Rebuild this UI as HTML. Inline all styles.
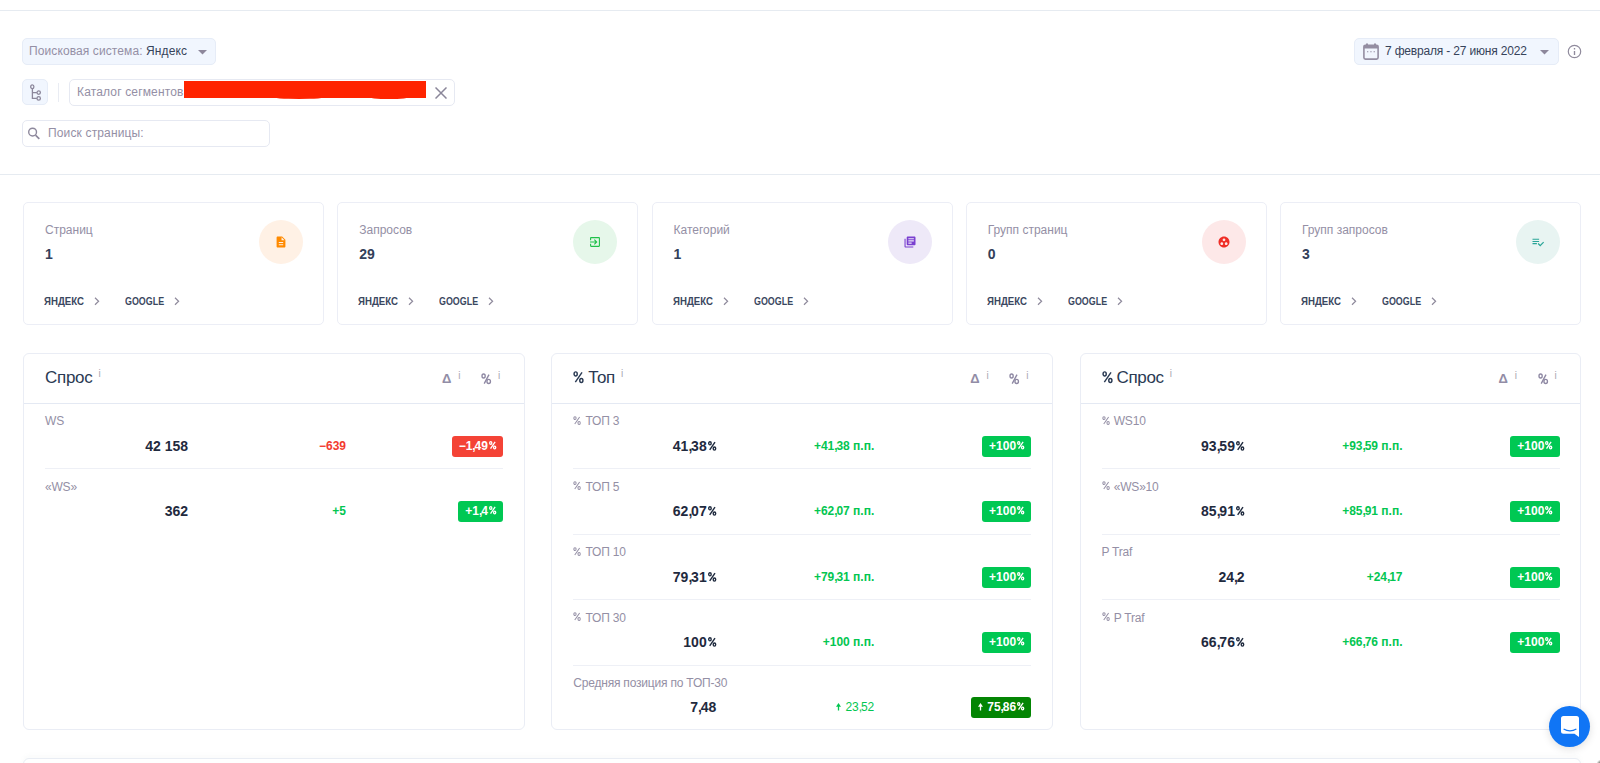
<!DOCTYPE html>
<html><head><meta charset="utf-8">
<style>
*{box-sizing:border-box;margin:0;padding:0}
html,body{width:1600px;height:763px;overflow:hidden;background:#fff;font-family:"Liberation Sans",sans-serif;}
.abs{position:absolute}
.hl{position:absolute;left:0;width:1600px;height:1px;background:#e6ebf1}
.lower{position:absolute;left:0;top:175px;width:1600px;height:588px;background:#fff}
.t{position:absolute;white-space:nowrap;line-height:1}
.box{position:absolute;border:1px solid #e4e9f3;border-radius:5px}
.card{position:absolute;top:202px;width:301px;height:123px;background:#fff;border:1px solid #eceef6;border-radius:5px}
.card .lbl{position:absolute;left:21px;top:20.5px;font-size:12px;color:#948fa5;line-height:1}
.card .val{position:absolute;left:21px;top:44px;font-size:14px;font-weight:bold;color:#33405a;line-height:1}
.card .circ{position:absolute;left:235px;top:17px;width:44px;height:44px;border-radius:50%}
.card .circ svg{position:absolute;left:10px;top:10px}
.card .lk{position:absolute;top:94px;font-size:10px;font-weight:bold;color:#3a4760;line-height:1;letter-spacing:0;transform-origin:0 0}
.card .chev{position:absolute;top:93px}
.panel{position:absolute;top:353px;width:501.5px;height:377px;background:#fff;border:1px solid #eaedf5;border-radius:6px}
.panel .hd{position:absolute;left:0;top:0;width:100%;height:50px;border-bottom:1px solid #e4e9f3}
.panel .ttl{position:absolute;left:21px;top:15px;font-size:17px;color:#2a3a53;line-height:1;letter-spacing:-0.3px}
.ttl .sup{margin-left:6px}
.sup{font-size:10px;font-weight:normal;color:#a9a7b3;vertical-align:top;position:relative;top:0px;margin-left:5px;letter-spacing:0}
.pc2{display:inline-block;transform:scaleX(.75);transform-origin:0 0;margin-right:-3px}
.panel .dh{position:absolute;top:18px;font-size:13px;color:#928da6;line-height:1;font-weight:bold}
.row{position:absolute;left:21px;width:458px;height:65.5px}
.row .rl{position:absolute;left:0;top:11.5px;font-size:12px;color:#948fa5;line-height:1;letter-spacing:-0.2px}
.pg{display:inline-block;vertical-align:baseline;overflow:visible}
.pg g{fill:none;stroke:currentColor;stroke-width:1.4px}
.rv .pg{width:8.4px;height:9.9px;margin-left:1.2px}
.bd .pg{width:7.4px;height:8.6px;margin-left:0.8px}
.bd .pg g{stroke-width:1.5px}
.rl .pg{width:8.1px;height:9.1px;margin:0 1px 0 0}
.rl .pg g{stroke-width:1.1px}
.ttl .pg{width:11px;height:12.5px;margin:0 -0.5px 0 0}
.ttl .pg g{stroke-width:1.15px}
.cm{letter-spacing:-1.2px}
.row .rv{position:absolute;right:315px;top:35px;font-size:14px;font-weight:bold;color:#1f2a3e;line-height:1}
.row .rd{position:absolute;right:157px;top:36px;font-size:12px;font-weight:bold;color:#03c651;line-height:1}
.row .rd.neg{color:#f33b2f}
.row .bd{position:absolute;right:0;top:32px;height:21px;padding:0 7px;border-radius:3px;background:#00c853;color:#fff;font-size:12px;font-weight:bold;line-height:21px}
.row .bd.neg{background:#f44336}
.row .bd.dk{background:#038503}
.ar{display:inline-block;vertical-align:baseline;margin-right:4.3px;position:relative;top:0px}
.row .dv{position:absolute;left:0;bottom:0;width:458px;height:1px;background:#eef0f6}
</style></head>
<body>
<div class="hl" style="top:10px"></div>
<div class="lower"></div>
<div class="hl" style="top:174px"></div>

<!-- search system dropdown -->
<div class="box" style="left:22px;top:38px;width:194px;height:27px;background:#f1f6fe;border-color:#e6ecf7;border-radius:5px"></div>
<div class="t" style="left:29px;top:45px;font-size:12px;color:#948fa5;letter-spacing:0.1px">Поисковая система: <span style="color:#36435a">Яндекс</span></div>
<svg class="abs" style="left:198px;top:50px" width="9" height="5"><path d="M0 0H9L4.5 4.5Z" fill="#8d879b"/></svg>

<!-- tree button -->
<div class="box" style="left:22px;top:79px;width:26px;height:26px;background:#f1f6fe;border-color:#e6ecf7"></div>
<svg class="abs" style="left:28px;top:84px" width="16" height="17" viewBox="0 0 16 17">
 <g fill="none" stroke="#8c879b" stroke-width="1.3">
  <ellipse cx="4.3" cy="2.8" rx="1.6" ry="1.9"/><path d="M4.4 4.7V14.4H8.9M4.4 8.6H8.9"/>
  <circle cx="10.7" cy="8.6" r="1.7"/><circle cx="10.7" cy="14.4" r="1.7"/>
 </g></svg>
<div class="abs" style="left:58px;top:83px;width:1px;height:19px;background:#e9ecf3"></div>

<!-- segment catalog input -->
<div class="box" style="left:69px;top:79px;width:386px;height:27px;background:#fff;border-color:#e6e9f2"></div>
<div class="t" style="left:77px;top:86px;font-size:12px;color:#948fa5;letter-spacing:0.15px">Каталог сегментов</div>
<div class="abs" style="left:184px;top:81px;width:242px;height:17px;background:#ff2400"></div>
<div class="abs" style="left:272px;top:95px;width:54px;height:3.8px;border-radius:50%;background:#ff2400"></div>
<div class="abs" style="left:368px;top:95px;width:42px;height:3.8px;border-radius:50%;background:#ff2400"></div>
<svg class="abs" style="left:435px;top:87px" width="12" height="12"><path d="M0.5 0.5L11.5 11.5M11.5 0.5L0.5 11.5" stroke="#8a8699" stroke-width="1.5"/></svg>

<!-- search page -->
<div class="box" style="left:22px;top:120px;width:248px;height:27px;background:#fff;border-color:#e6e9f2"></div>
<svg class="abs" style="left:27px;top:127px" width="14" height="14"><circle cx="5.6" cy="5.1" r="3.9" fill="none" stroke="#8d889c" stroke-width="1.4"/><path d="M8.5 8.1L12.3 11.9" stroke="#8d889c" stroke-width="1.6"/></svg>
<div class="t" style="left:48px;top:127px;font-size:12px;color:#948fa5;letter-spacing:0.15px">Поиск страницы:</div>

<!-- date picker -->
<div class="box" style="left:1354px;top:38px;width:205px;height:27px;background:#f1f6fe;border-color:#e6ecf7"></div>
<svg class="abs" style="left:1363px;top:43px" width="16" height="17" viewBox="0 0 16 17">
 <path d="M3 0.5h2v2H3zM11 0.5h2v2h-2z" fill="#948ea2"/>
 <rect x="0.9" y="2.2" width="14.2" height="13.9" rx="1.5" fill="none" stroke="#948ea2" stroke-width="1.6"/>
 <rect x="0.9" y="2.2" width="14.2" height="3.3" fill="#948ea2"/>
 <path d="M4 8.8h1.3M7.3 8.8h1.3M10.6 8.8h1.3" stroke="#948ea2" stroke-width="1.1"/>
</svg>
<div class="t" style="left:1385px;top:45px;font-size:12px;color:#36435a;letter-spacing:-0.18px">7 февраля - 27 июня 2022</div>
<svg class="abs" style="left:1540px;top:50px" width="9" height="5"><path d="M0 0H9L4.5 4.5Z" fill="#8d879b"/></svg>
<svg class="abs" style="left:1567px;top:44px" width="15" height="15"><circle cx="7.5" cy="7.5" r="6.2" fill="none" stroke="#8f8a9c" stroke-width="1.2"/><path d="M7.5 7V10.9M7.5 4V5.5" stroke="#8f8a9c" stroke-width="1.35"/></svg>

<!-- stat cards -->
<div class="card" style="left:23px">
 <div class="lbl">Страниц</div><div class="val">1</div>
 <div class="circ" style="background:#fff1e5"><svg width="24" height="24" viewBox="0 0 24 24"><path d="M14 2H6c-1.1 0-2 .9-2 2v16c0 1.1.9 2 2 2h12c1.1 0 2-.9 2-2V8l-6-6zm2 16H8v-2h8v2zm0-4H8v-2h8v2zm-3-5V3.5L18.5 9H13z" fill="#ff8a00" transform="translate(12 12) scale(.55) translate(-12 -12)"/></svg></div>
 <div class="lk" style="left:20px;transform:scaleX(.965)">ЯНДЕКС</div><svg class="chev" style="left:70px" width="6" height="10"><path d="M1 1.8L4.6 5.3L1 8.8" fill="none" stroke="#8f8a9c" stroke-width="1.2"/></svg>
 <div class="lk" style="left:101px;transform:scaleX(.89)">GOOGLE</div><svg class="chev" style="left:150px" width="6" height="10"><path d="M1 1.8L4.6 5.3L1 8.8" fill="none" stroke="#8f8a9c" stroke-width="1.2"/></svg>
</div>
<div class="card" style="left:337.25px">
 <div class="lbl">Запросов</div><div class="val">29</div>
 <div class="circ" style="background:#e6f7ea"><svg width="24" height="24" viewBox="0 0 24 24"><path d="M10.09 15.59L11.5 17l5-5-5-5-1.41 1.41L12.67 11H3v2h9.67l-2.58 2.59zM19 3H5c-1.11 0-2 .9-2 2v4h2V5h14v14H5v-4H3v4c0 1.1.89 2 2 2h14c1.1 0 2-.9 2-2V5c0-1.1-.9-2-2-2z" fill="#1fc14a" transform="translate(12 12) scale(.55) translate(-12 -12)"/></svg></div>
 <div class="lk" style="left:20px;transform:scaleX(.965)">ЯНДЕКС</div><svg class="chev" style="left:70px" width="6" height="10"><path d="M1 1.8L4.6 5.3L1 8.8" fill="none" stroke="#8f8a9c" stroke-width="1.2"/></svg>
 <div class="lk" style="left:101px;transform:scaleX(.89)">GOOGLE</div><svg class="chev" style="left:150px" width="6" height="10"><path d="M1 1.8L4.6 5.3L1 8.8" fill="none" stroke="#8f8a9c" stroke-width="1.2"/></svg>
</div>
<div class="card" style="left:651.5px">
 <div class="lbl">Категорий</div><div class="val">1</div>
 <div class="circ" style="background:#eee9f8"><svg width="24" height="24" viewBox="0 0 24 24"><path d="M4 6H2v14c0 1.1.9 2 2 2h14v-2H4V6zm16-4H8c-1.1 0-2 .9-2 2v12c0 1.1.9 2 2 2h12c1.1 0 2-.9 2-2V4c0-1.1-.9-2-2-2zm-1 9H9V9h10v2zm-4 4H9v-2h6v2zm4-8H9V5h10v2z" fill="#7a40d0" transform="translate(12 12) scale(.55) translate(-12 -12)"/></svg></div>
 <div class="lk" style="left:20px;transform:scaleX(.965)">ЯНДЕКС</div><svg class="chev" style="left:70px" width="6" height="10"><path d="M1 1.8L4.6 5.3L1 8.8" fill="none" stroke="#8f8a9c" stroke-width="1.2"/></svg>
 <div class="lk" style="left:101px;transform:scaleX(.89)">GOOGLE</div><svg class="chev" style="left:150px" width="6" height="10"><path d="M1 1.8L4.6 5.3L1 8.8" fill="none" stroke="#8f8a9c" stroke-width="1.2"/></svg>
</div>
<div class="card" style="left:965.75px">
 <div class="lbl">Групп страниц</div><div class="val">0</div>
 <div class="circ" style="background:#fde8e8"><svg width="24" height="24" viewBox="0 0 24 24"><path d="M12 2C6.48 2 2 6.48 2 12s4.48 10 10 10 10-4.48 10-10S17.52 2 12 2zM8 17.5c-1.38 0-2.5-1.12-2.5-2.5s1.12-2.5 2.5-2.5 2.5 1.12 2.5 2.5-1.12 2.5-2.5 2.5zM9.5 8c0-1.38 1.12-2.5 2.5-2.5s2.5 1.12 2.5 2.5-1.12 2.5-2.5 2.5S9.5 9.38 9.5 8zm6.5 9.5c-1.38 0-2.5-1.12-2.5-2.5s1.12-2.5 2.5-2.5 2.5 1.12 2.5 2.5-1.12 2.5-2.5 2.5z" fill="#ef2e26" transform="translate(12 12) scale(.55) translate(-12 -12)"/></svg></div>
 <div class="lk" style="left:20px;transform:scaleX(.965)">ЯНДЕКС</div><svg class="chev" style="left:70px" width="6" height="10"><path d="M1 1.8L4.6 5.3L1 8.8" fill="none" stroke="#8f8a9c" stroke-width="1.2"/></svg>
 <div class="lk" style="left:101px;transform:scaleX(.89)">GOOGLE</div><svg class="chev" style="left:150px" width="6" height="10"><path d="M1 1.8L4.6 5.3L1 8.8" fill="none" stroke="#8f8a9c" stroke-width="1.2"/></svg>
</div>
<div class="card" style="left:1280px">
 <div class="lbl">Групп запросов</div><div class="val">3</div>
 <div class="circ" style="background:#e8f4f2"><svg width="24" height="24" viewBox="0 0 24 24"><path d="M14 10H2v2h12v-2zm0-4H2v2h12V6zM2 16h8v-2H2v2zm19.5-4.5L23 13l-6.99 7-4.51-4.5L13 14l3.01 3 5.49-5.5z" fill="#2aa598" transform="translate(12 12) scale(.55) translate(-12 -12)"/></svg></div>
 <div class="lk" style="left:20px;transform:scaleX(.965)">ЯНДЕКС</div><svg class="chev" style="left:70px" width="6" height="10"><path d="M1 1.8L4.6 5.3L1 8.8" fill="none" stroke="#8f8a9c" stroke-width="1.2"/></svg>
 <div class="lk" style="left:101px;transform:scaleX(.89)">GOOGLE</div><svg class="chev" style="left:150px" width="6" height="10"><path d="M1 1.8L4.6 5.3L1 8.8" fill="none" stroke="#8f8a9c" stroke-width="1.2"/></svg>
</div>

<!-- PANELS -->
<div class="panel" style="left:23px">
 <div class="hd"><div class="ttl">Спрос<span class="sup">i</span></div>
  <div class="dh" style="left:418px">Δ<span class="sup" style="margin-left:7px;top:-1.5px">i</span></div><svg class="abs" style="left:457px;top:19px" width="11" height="12" viewBox="0 0 11 12"><g fill="none" stroke="#8e88a3" stroke-width="1.35"><ellipse cx="2.6" cy="3" rx="1.6" ry="2"/><ellipse cx="7.7" cy="8.4" rx="1.75" ry="2.1"/><path d="M8 1.6L3.2 10.6"/></g></svg><div class="dh" style="left:474px"><span class="sup" style="margin-left:0;top:-1.5px">i</span></div></div>
 <div class="row" style="top:49.5px"><div class="rl">WS</div><div class="rv">42 158</div><div class="rd neg">−639</div><div class="bd neg">−1<span class="cm">,</span>49<svg class="pg" viewBox="0 0 8.4 9.9"><g><ellipse cx="1.95" cy="2.3" rx="1.25" ry="1.6"/><ellipse cx="6.45" cy="7.55" rx="1.25" ry="1.6"/><path d="M7 1.1L1.7 8.8"/></g></svg></div><div class="dv"></div></div>
 <div class="row" style="top:115px"><div class="rl">«WS»</div><div class="rv">362</div><div class="rd">+5</div><div class="bd">+1<span class="cm">,</span>4<svg class="pg" viewBox="0 0 8.4 9.9"><g><ellipse cx="1.95" cy="2.3" rx="1.25" ry="1.6"/><ellipse cx="6.45" cy="7.55" rx="1.25" ry="1.6"/><path d="M7 1.1L1.7 8.8"/></g></svg></div></div>
</div>

<div class="panel" style="left:551.25px">
 <div class="hd"><div class="ttl"><svg class="pg" viewBox="0 0 8.4 9.9"><g><ellipse cx="1.95" cy="2.3" rx="1.25" ry="1.6"/><ellipse cx="6.45" cy="7.55" rx="1.25" ry="1.6"/><path d="M7 1.1L1.7 8.8"/></g></svg> Топ<span class="sup">i</span></div>
  <div class="dh" style="left:418px">Δ<span class="sup" style="margin-left:7px;top:-1.5px">i</span></div><svg class="abs" style="left:457px;top:19px" width="11" height="12" viewBox="0 0 11 12"><g fill="none" stroke="#8e88a3" stroke-width="1.35"><ellipse cx="2.6" cy="3" rx="1.6" ry="2"/><ellipse cx="7.7" cy="8.4" rx="1.75" ry="2.1"/><path d="M8 1.6L3.2 10.6"/></g></svg><div class="dh" style="left:474px"><span class="sup" style="margin-left:0;top:-1.5px">i</span></div></div>
 <div class="row" style="top:49.5px"><div class="rl"><svg class="pg" viewBox="0 0 8.4 9.9"><g><ellipse cx="1.95" cy="2.3" rx="1.25" ry="1.6"/><ellipse cx="6.45" cy="7.55" rx="1.25" ry="1.6"/><path d="M7 1.1L1.7 8.8"/></g></svg> ТОП 3</div><div class="rv">41<span class="cm">,</span>38<svg class="pg" viewBox="0 0 8.4 9.9"><g><ellipse cx="1.95" cy="2.3" rx="1.25" ry="1.6"/><ellipse cx="6.45" cy="7.55" rx="1.25" ry="1.6"/><path d="M7 1.1L1.7 8.8"/></g></svg></div><div class="rd">+41<span class="cm">,</span>38 п.п.</div><div class="bd">+100<svg class="pg" viewBox="0 0 8.4 9.9"><g><ellipse cx="1.95" cy="2.3" rx="1.25" ry="1.6"/><ellipse cx="6.45" cy="7.55" rx="1.25" ry="1.6"/><path d="M7 1.1L1.7 8.8"/></g></svg></div><div class="dv"></div></div>
 <div class="row" style="top:115px"><div class="rl"><svg class="pg" viewBox="0 0 8.4 9.9"><g><ellipse cx="1.95" cy="2.3" rx="1.25" ry="1.6"/><ellipse cx="6.45" cy="7.55" rx="1.25" ry="1.6"/><path d="M7 1.1L1.7 8.8"/></g></svg> ТОП 5</div><div class="rv">62<span class="cm">,</span>07<svg class="pg" viewBox="0 0 8.4 9.9"><g><ellipse cx="1.95" cy="2.3" rx="1.25" ry="1.6"/><ellipse cx="6.45" cy="7.55" rx="1.25" ry="1.6"/><path d="M7 1.1L1.7 8.8"/></g></svg></div><div class="rd">+62<span class="cm">,</span>07 п.п.</div><div class="bd">+100<svg class="pg" viewBox="0 0 8.4 9.9"><g><ellipse cx="1.95" cy="2.3" rx="1.25" ry="1.6"/><ellipse cx="6.45" cy="7.55" rx="1.25" ry="1.6"/><path d="M7 1.1L1.7 8.8"/></g></svg></div><div class="dv"></div></div>
 <div class="row" style="top:180.5px"><div class="rl"><svg class="pg" viewBox="0 0 8.4 9.9"><g><ellipse cx="1.95" cy="2.3" rx="1.25" ry="1.6"/><ellipse cx="6.45" cy="7.55" rx="1.25" ry="1.6"/><path d="M7 1.1L1.7 8.8"/></g></svg> ТОП 10</div><div class="rv">79<span class="cm">,</span>31<svg class="pg" viewBox="0 0 8.4 9.9"><g><ellipse cx="1.95" cy="2.3" rx="1.25" ry="1.6"/><ellipse cx="6.45" cy="7.55" rx="1.25" ry="1.6"/><path d="M7 1.1L1.7 8.8"/></g></svg></div><div class="rd">+79<span class="cm">,</span>31 п.п.</div><div class="bd">+100<svg class="pg" viewBox="0 0 8.4 9.9"><g><ellipse cx="1.95" cy="2.3" rx="1.25" ry="1.6"/><ellipse cx="6.45" cy="7.55" rx="1.25" ry="1.6"/><path d="M7 1.1L1.7 8.8"/></g></svg></div><div class="dv"></div></div>
 <div class="row" style="top:246px"><div class="rl"><svg class="pg" viewBox="0 0 8.4 9.9"><g><ellipse cx="1.95" cy="2.3" rx="1.25" ry="1.6"/><ellipse cx="6.45" cy="7.55" rx="1.25" ry="1.6"/><path d="M7 1.1L1.7 8.8"/></g></svg> ТОП 30</div><div class="rv">100<svg class="pg" viewBox="0 0 8.4 9.9"><g><ellipse cx="1.95" cy="2.3" rx="1.25" ry="1.6"/><ellipse cx="6.45" cy="7.55" rx="1.25" ry="1.6"/><path d="M7 1.1L1.7 8.8"/></g></svg></div><div class="rd">+100 п.п.</div><div class="bd">+100<svg class="pg" viewBox="0 0 8.4 9.9"><g><ellipse cx="1.95" cy="2.3" rx="1.25" ry="1.6"/><ellipse cx="6.45" cy="7.55" rx="1.25" ry="1.6"/><path d="M7 1.1L1.7 8.8"/></g></svg></div><div class="dv"></div></div>
 <div class="row" style="top:311.5px"><div class="rl">Средняя позиция по ТОП-30</div><div class="rv" style="top:34px">7<span class="cm">,</span>48</div><div class="rd" style="font-weight:normal;top:35px"><svg class="ar" width="5" height="8" viewBox="0 0 5 8"><path d="M2.5 0L5 3.7H3.15V7.6H1.85V3.7H0Z" fill="currentColor"/></svg>23<span class="cm">,</span>52</div><div class="bd dk" style="top:31.5px"><svg class="ar" width="5" height="8" viewBox="0 0 5 8"><path d="M2.5 0L5 3.7H3.15V7.6H1.85V3.7H0Z" fill="currentColor"/></svg>75<span class="cm">,</span>86<svg class="pg" viewBox="0 0 8.4 9.9"><g><ellipse cx="1.95" cy="2.3" rx="1.25" ry="1.6"/><ellipse cx="6.45" cy="7.55" rx="1.25" ry="1.6"/><path d="M7 1.1L1.7 8.8"/></g></svg></div></div>
</div>

<div class="panel" style="left:1079.5px">
 <div class="hd"><div class="ttl"><svg class="pg" viewBox="0 0 8.4 9.9"><g><ellipse cx="1.95" cy="2.3" rx="1.25" ry="1.6"/><ellipse cx="6.45" cy="7.55" rx="1.25" ry="1.6"/><path d="M7 1.1L1.7 8.8"/></g></svg> Спрос<span class="sup">i</span></div>
  <div class="dh" style="left:418px">Δ<span class="sup" style="margin-left:7px;top:-1.5px">i</span></div><svg class="abs" style="left:457px;top:19px" width="11" height="12" viewBox="0 0 11 12"><g fill="none" stroke="#8e88a3" stroke-width="1.35"><ellipse cx="2.6" cy="3" rx="1.6" ry="2"/><ellipse cx="7.7" cy="8.4" rx="1.75" ry="2.1"/><path d="M8 1.6L3.2 10.6"/></g></svg><div class="dh" style="left:474px"><span class="sup" style="margin-left:0;top:-1.5px">i</span></div></div>
 <div class="row" style="top:49.5px"><div class="rl"><svg class="pg" viewBox="0 0 8.4 9.9"><g><ellipse cx="1.95" cy="2.3" rx="1.25" ry="1.6"/><ellipse cx="6.45" cy="7.55" rx="1.25" ry="1.6"/><path d="M7 1.1L1.7 8.8"/></g></svg> WS10</div><div class="rv">93<span class="cm">,</span>59<svg class="pg" viewBox="0 0 8.4 9.9"><g><ellipse cx="1.95" cy="2.3" rx="1.25" ry="1.6"/><ellipse cx="6.45" cy="7.55" rx="1.25" ry="1.6"/><path d="M7 1.1L1.7 8.8"/></g></svg></div><div class="rd">+93<span class="cm">,</span>59 п.п.</div><div class="bd">+100<svg class="pg" viewBox="0 0 8.4 9.9"><g><ellipse cx="1.95" cy="2.3" rx="1.25" ry="1.6"/><ellipse cx="6.45" cy="7.55" rx="1.25" ry="1.6"/><path d="M7 1.1L1.7 8.8"/></g></svg></div><div class="dv"></div></div>
 <div class="row" style="top:115px"><div class="rl"><svg class="pg" viewBox="0 0 8.4 9.9"><g><ellipse cx="1.95" cy="2.3" rx="1.25" ry="1.6"/><ellipse cx="6.45" cy="7.55" rx="1.25" ry="1.6"/><path d="M7 1.1L1.7 8.8"/></g></svg> «WS»10</div><div class="rv">85<span class="cm">,</span>91<svg class="pg" viewBox="0 0 8.4 9.9"><g><ellipse cx="1.95" cy="2.3" rx="1.25" ry="1.6"/><ellipse cx="6.45" cy="7.55" rx="1.25" ry="1.6"/><path d="M7 1.1L1.7 8.8"/></g></svg></div><div class="rd">+85<span class="cm">,</span>91 п.п.</div><div class="bd">+100<svg class="pg" viewBox="0 0 8.4 9.9"><g><ellipse cx="1.95" cy="2.3" rx="1.25" ry="1.6"/><ellipse cx="6.45" cy="7.55" rx="1.25" ry="1.6"/><path d="M7 1.1L1.7 8.8"/></g></svg></div><div class="dv"></div></div>
 <div class="row" style="top:180.5px"><div class="rl">P Traf</div><div class="rv">24<span class="cm">,</span>2</div><div class="rd">+24<span class="cm">,</span>17</div><div class="bd">+100<svg class="pg" viewBox="0 0 8.4 9.9"><g><ellipse cx="1.95" cy="2.3" rx="1.25" ry="1.6"/><ellipse cx="6.45" cy="7.55" rx="1.25" ry="1.6"/><path d="M7 1.1L1.7 8.8"/></g></svg></div><div class="dv"></div></div>
 <div class="row" style="top:246px"><div class="rl"><svg class="pg" viewBox="0 0 8.4 9.9"><g><ellipse cx="1.95" cy="2.3" rx="1.25" ry="1.6"/><ellipse cx="6.45" cy="7.55" rx="1.25" ry="1.6"/><path d="M7 1.1L1.7 8.8"/></g></svg> P Traf</div><div class="rv">66<span class="cm">,</span>76<svg class="pg" viewBox="0 0 8.4 9.9"><g><ellipse cx="1.95" cy="2.3" rx="1.25" ry="1.6"/><ellipse cx="6.45" cy="7.55" rx="1.25" ry="1.6"/><path d="M7 1.1L1.7 8.8"/></g></svg></div><div class="rd">+66<span class="cm">,</span>76 п.п.</div><div class="bd">+100<svg class="pg" viewBox="0 0 8.4 9.9"><g><ellipse cx="1.95" cy="2.3" rx="1.25" ry="1.6"/><ellipse cx="6.45" cy="7.55" rx="1.25" ry="1.6"/><path d="M7 1.1L1.7 8.8"/></g></svg></div></div>
</div>

<!-- bottom card -->
<div class="abs" style="left:23px;top:758px;width:1558px;height:30px;background:#fff;border:1px solid #e9edf4;border-radius:6px;box-shadow:0 -3px 4px rgba(120,130,150,.035)"></div>

<!-- chat -->
<div class="abs" style="left:1549.2px;top:706px;width:41px;height:41px;border-radius:50%;background:#1075f5;box-shadow:0 2px 9px rgba(0,0,0,.13)"></div>
<svg class="abs" style="left:1560.8px;top:716px" width="18" height="21" viewBox="0 0 18 21"><path d="M2.5 0H15.5Q18 0 18 2.5V21L13.5 17.8H2.5Q0 17.8 0 15.3V2.5Q0 0 2.5 0Z" fill="#fff"/><path d="M2.6 13Q9 16.8 15.4 13" fill="none" stroke="#1075f5" stroke-width="1.2"/></svg>
<div class="abs" style="left:1596px;top:759px;width:8px;height:8px;border-radius:50%;background:radial-gradient(circle at 75% 75%,#4a4a40 0,#6a6a60 30%,rgba(255,255,255,0) 70%)"></div>
</body></html>
